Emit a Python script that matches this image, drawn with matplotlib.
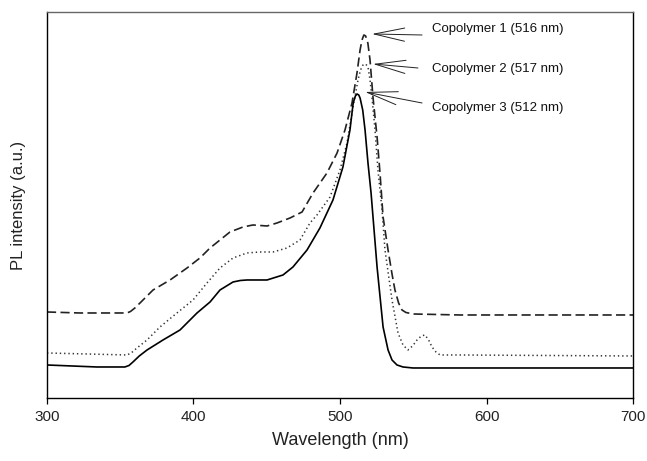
import numpy as np
import matplotlib
matplotlib.use("Agg")
import matplotlib.pyplot as plt

plt.rcParams['font.family'] = ['Liberation Sans', 'DejaVu Sans']

# PL spectra (wavelength in nm, intensity in a.u.)
wl_1 = [300, 322.5, 354.6, 357.0, 360.0, 363.5, 372.4, 384.0, 395.6, 404.4, 411.3, 418.1,
        424.9, 433.8, 440.6, 450.2, 457.0, 465.9, 474.1, 481.6, 491.1, 498.0, 503.4, 508.2,
        511.6, 513.7, 515.0, 516.3, 517.5, 519.0, 520.5, 522.5, 525.3, 527.3, 529.4, 532.8,
        535.5, 537.5, 540.0, 542.3, 545.0, 549.8, 581.9, 700]
pl_1 = [86, 85, 85, 86.5, 90, 95, 108, 118, 130, 140, 150, 158,
        166, 171, 173, 172, 175, 180, 186, 205, 225, 245, 268, 295,
        325, 348, 358, 363, 362, 355, 338, 301, 261, 225, 181, 148,
        124, 108, 95, 88, 85.5, 84, 83, 83]

wl_2 = [300, 354.6, 357.5, 361.4, 368.3, 377.1, 388.7, 399.7, 409.2, 418.1, 427.0, 436.5,
        445.4, 454.3, 463.8, 472.7, 479.5, 484.3, 493.2, 500.0, 504.8, 508.9, 512.3, 514.0,
        515.7, 517.5, 519.1, 520.5, 521.8, 523.9, 525.9, 528.7, 530.7, 535.5, 539.6, 543.0,
        546.4, 549.5, 552.6, 555.5, 558.0, 560.5, 562.8, 565.5, 568.3, 581.9, 700]
pl_2 = [45, 43, 45, 50, 58, 71, 85, 98, 115, 130, 140, 145,
        146, 146, 150, 158, 175, 183, 201, 228, 255, 291, 318, 328,
        333, 334, 331, 318, 301, 268, 228, 188, 148, 98, 65, 53,
        48, 52, 58, 62, 63, 58, 51, 46, 43, 43, 42]

wl_3 = [300, 334.1, 353.2, 356.0, 358.7, 363.0, 368.3, 379.2, 390.8, 402.4, 411.3, 418.1,
        427.0, 432.0, 436.5, 450.2, 461.1, 467.9, 477.5, 486.3, 495.2, 502.0, 506.8, 509.0,
        510.5, 511.6, 512.8, 513.7, 515.5, 517.1, 519.1, 521.2, 525.3, 529.4, 532.8, 535.5,
        538.9, 543.0, 549.8, 700]
pl_3 = [33, 31, 31, 32.5, 36, 42, 48, 58, 68, 85, 96, 108,
        116, 117.5, 118, 118, 123, 131, 148, 170, 198, 231, 268, 295,
        302, 304, 303, 300, 288, 268, 235, 205, 131, 71, 48, 38,
        33, 31, 30, 30]

labels = ['Copolymer 1 (516 nm)', 'Copolymer 2 (517 nm)', 'Copolymer 3 (512 nm)']
arrow_tips = [(521.8, 364), (522.5, 334), (517.1, 306)]
arrow_tails = [(556.0, 363), (553.2, 330), (556.0, 295)]
label_pos = [(562.8, 369), (562.8, 329), (562.8, 290)]

fig = plt.figure(figsize=(6.47, 4.61), dpi=100)
ax = fig.add_axes([0.0726, 0.1367, 0.9058, 0.8373])

l1, = ax.plot(wl_1, pl_1, color='#222222', lw=1.2)
l1.set_dashes([5.5, 2.6])
l2, = ax.plot(wl_2, pl_2, color='#333333', lw=1.1)
l2.set_dashes([0.9, 1.9])
ax.plot(wl_3, pl_3, color='black', lw=1.2)

for lab, tip, tail, pos in zip(labels, arrow_tips, arrow_tails, label_pos):
    ax.annotate('', xy=tip, xytext=tail,
                arrowprops=dict(arrowstyle='->,head_length=2.3,head_width=0.5',
                                lw=0.7, color='#222222', mutation_scale=9.5,
                                shrinkA=0, shrinkB=0))
    ax.text(pos[0], pos[1], lab, fontsize=9.5, va='center', ha='left', color='#111111')

ax.set_xlim(300, 700)
ax.set_ylim(0, 386)
ax.set_xticks([300, 400, 500, 600, 700])
ax.set_yticks([])
ax.tick_params(axis='x', direction='out', length=4, width=0.9, labelsize=11,
               labelcolor='#222222', pad=5)
for s in ax.spines.values():
    s.set_linewidth(1.0)
ax.spines['top'].set_color('#666666')

ax.set_xlabel('Wavelength (nm)', fontsize=13, color='#222222')
ax.xaxis.set_label_coords(0.5, -0.111)
ax.xaxis.label.set_va('center')
ax.set_ylabel('PL intensity (a.u.)', fontsize=12, color='#222222')
ax.yaxis.set_label_coords(-0.049, 0.5)
ax.yaxis.label.set_va('center')

fig.savefig('out.png', dpi=100)
